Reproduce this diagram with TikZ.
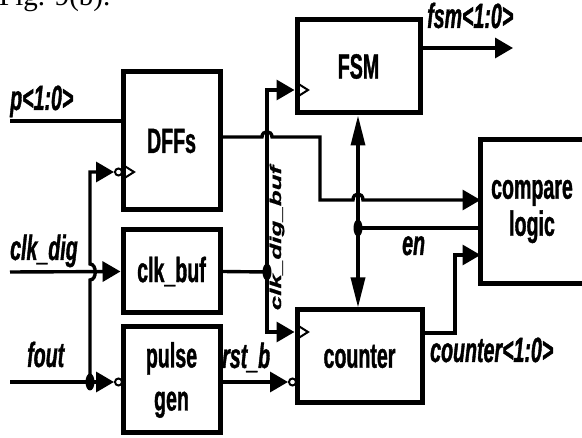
\documentclass[tikz,border=0pt]{standalone}
\usepackage{fontspec}
\newfontfamily\lblfont{Liberation Sans}[FakeStretch=0.56,FakeBold=1]
\newfontfamily\lblwide{Liberation Sans}[FakeBold=0.8]
\newfontfamily\capfont{Liberation Serif}
\usetikzlibrary{arrows.meta,calc,shapes.geometric}
\begin{document}
\begin{tikzpicture}[x=1pt,y=-1pt,
  box/.style={draw,line width=5pt,inner sep=0pt,align=center,
    font=\lblfont\bfseries\fontsize{35}{43}\selectfont},
  wire/.style={line width=3.4pt},
  harr/.style={-{Triangle[length=18pt,width=20pt]}},
  varr/.style={-{Triangle[length=30pt,width=14pt]}},
  lbl/.style={font=\lblfont\bfseries\itshape\fontsize{35}{40}\selectfont,anchor=base west,inner sep=0pt},
  jdot/.style={fill,ellipse,minimum width=9pt,minimum height=17pt,inner sep=0pt},
  bubble/.style={draw,circle,line width=2pt,minimum size=7pt,inner sep=0pt,fill=white},
  clk/.style={line width=2pt,line join=miter}]
\fill[white] (0,0) rectangle (582,438);
\useasboundingbox (0,0) rectangle (582,438);

% caption (cut off at the top, as in the reference)
\node[font=\capfont\fontsize{29}{30}\selectfont,anchor=base west,inner sep=0pt] (cap) at (-1,6) {Fig. 9(b).};

% blocks
\node[box,minimum width=97pt,minimum height=138pt] (dff) at (171.5,141) {DFFs};
\node[box,minimum width=123pt,minimum height=93pt] (fsm) at (358.5,66.5) {FSM};
\node[box,minimum width=97pt,minimum height=83pt] (clkbuf) at (171.5,271.5) {clk\_buf};
\node[box,minimum width=97pt,minimum height=106pt] (pulse) at (171.5,380) {pulse\\gen};
\node[box,minimum width=125pt,minimum height=93pt] (cnt) at (359.5,356.5) {counter};
\node[box,draw=none,minimum width=98pt,minimum height=139pt,
  font=\lblfont\bfseries\fontsize{35}{37}\selectfont] (cmp) at (532,211.5) {compare\\logic};
\draw[line width=5pt] ($(cmp.north east)+(20,0)$) -| (cmp.south west) -- ($(cmp.south east)+(20,0)$);

% clock triangles
\draw[clk] (123,165) -- (134,172) -- (123,179);
\draw[clk] (297,83) -- (308,90) -- (297,97);
\draw[clk] (297,325) -- (308,332) -- (297,339);

% junction dots and bubbles
\node[jdot] (j1) at (90,382) {};
\node[jdot] (j2) at (267,272) {};
\node[jdot] (j3) at (358,228) {};
\node[bubble] (b1) at (118.5,172) {};
\node[bubble] (b2) at (118.5,382) {};
\node[bubble] (b3) at (292.5,382) {};
\coordinate (pin) at (10,121);
\coordinate (clkin) at (10,272);
\coordinate (foutin) at (10,382);
\coordinate (fsmout) at (513,48);

% wires
\draw[wire] (pin) -- (pin -| dff.west);
\draw[wire,harr] (dff.east |- 0,137) -- (262,137) .. controls +(0,-7) and +(0,-7) .. (272,137)
  -- (320,137) -- (320,200) -- (353,200) .. controls +(0,-8) and +(0,-8) .. (363,200) -- (cmp.west |- 0,200);
\draw[wire] (clkbuf.east) -- (j2.center);
\draw[wire,harr] (j2.center) |- (fsm.west |- 0,90);
\draw[wire,harr] (j2.center) |- (cnt.west |- 0,332);
\draw[wire,harr] (clkin) -- (clkbuf.west);
\draw[wire] (foutin) -- (j1.center);
\draw[wire,harr] (j1.center) -- (b2.west);
\draw[wire,harr] (j1.center) -- (90,280) .. controls +(7,0) and +(7,0) .. (90,264) -- (90,172) -- (b1.west);
\draw[wire,harr] (pulse.east |- b3) -- (b3.west);
\draw[wire,harr] (cnt.east |- 0,333) -- (455,333) -- (455,255) -- (cmp.west |- 0,255);
\draw[wire,harr] (fsm.east |- fsmout) -- (fsmout);
\draw[wire,varr] (j3.center) -- (j3 |- fsm.south);
\draw[wire,varr] (j3.center) -- (j3 |- cnt.north);
\draw[wire] (j3.center) -- (cmp.west |- j3);

% labels
\node[lbl] (lp) at (10,110) {p<1:0>};
\node[lbl] (lfsm) at (427,28) {fsm<1:0>};
\node[lbl] (lclk) at (10,260) {clk\_dig};
\node[lbl] (lfout) at (27,367) {fout};
\node[lbl] (lrst) at (222,368) {rst\_b};
\node[lbl] (len) at (402,255) {en};
\node[lbl] (lcnt) at (430,362) {counter<1:0>};
\node[rotate=90,inner sep=0pt,font=\lblwide\bfseries\itshape\fontsize{26}{30}\selectfont] (lbuf) at (277,238)
  {\scalebox{1}[0.6]{clk\_dig\_buf}};
\end{tikzpicture}
\end{document}
